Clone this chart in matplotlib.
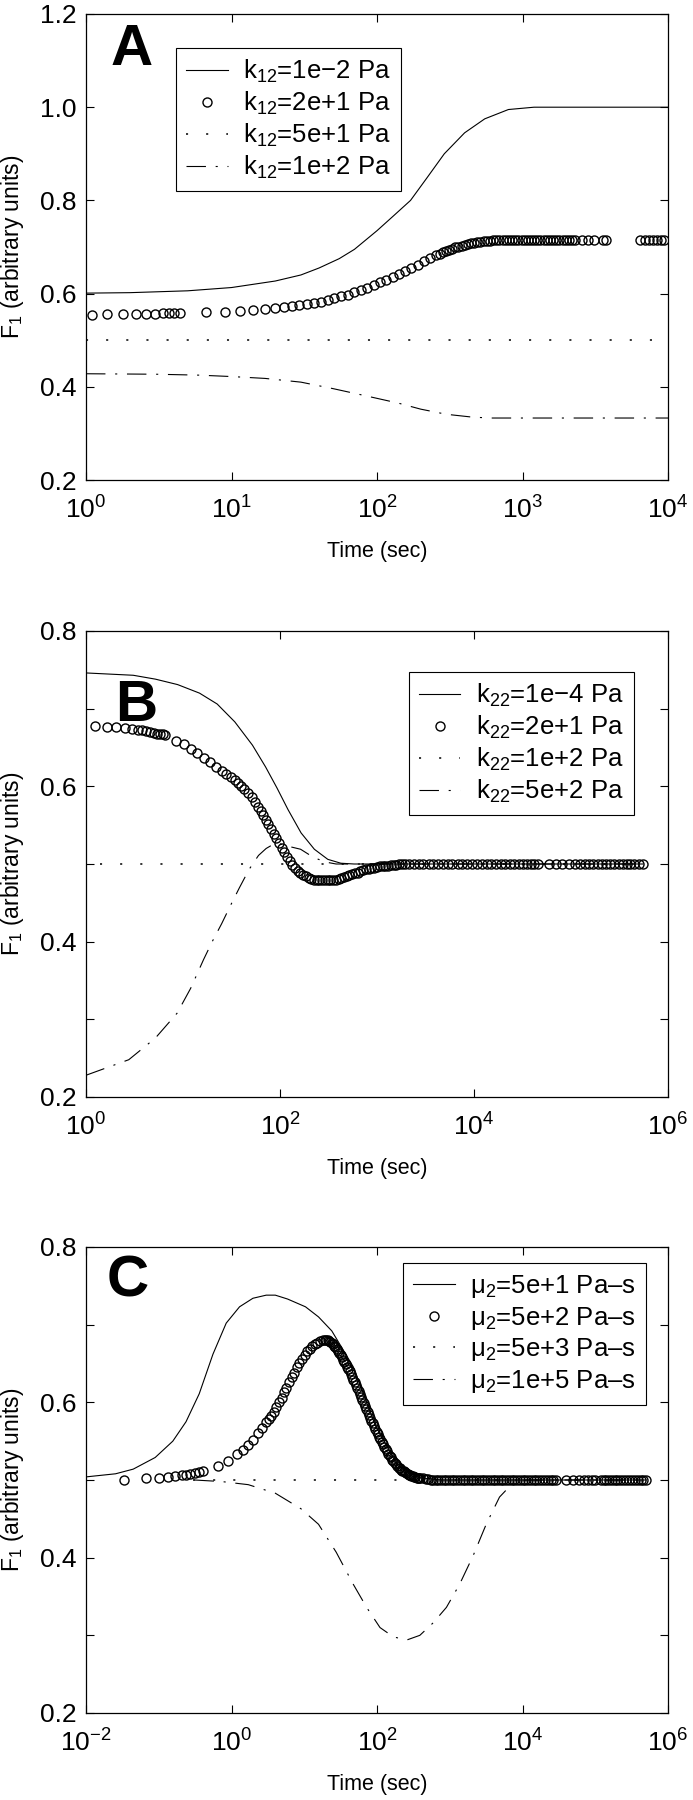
import matplotlib
matplotlib.use('Agg')
import matplotlib.pyplot as plt
from matplotlib.ticker import NullLocator

plt.rcParams['font.family'] = ['Liberation Sans', 'DejaVu Sans']
plt.rcParams['mathtext.fontset'] = 'custom'
plt.rcParams['mathtext.rm'] = 'Liberation Sans'
plt.rcParams['mathtext.it'] = 'Liberation Sans:italic'
plt.rcParams['mathtext.bf'] = 'Liberation Sans:bold'
plt.rcParams['lines.scale_dashes'] = False

# ---------------- panel A : k12 ----------------
a_labels = ['k$_{12}$=1e\u22122 Pa', 'k$_{12}$=2e+1 Pa', 'k$_{12}$=5e+1 Pa', 'k$_{12}$=1e+2 Pa']
a_t_solid = [1, 2, 5, 10, 20, 30, 40, 55, 70, 100, 130, 170, 220, 290, 400, 550, 800, 1200,
             10000]
a_y_solid = [0.601, 0.602, 0.606, 0.613, 0.627, 0.640, 0.655, 0.675, 0.695, 0.735, 0.767,
             0.800, 0.848, 0.900, 0.945, 0.975, 0.995, 1.000, 1.000]
a_t_circ = [1.1, 1.4, 1.8, 2.2, 2.6, 3.0, 3.4, 3.7, 4.0, 4.4,
            6.7, 9.0, 11.5, 14, 17, 20, 23, 26, 29, 33, 37, 41, 46, 51, 57, 63, 70, 78, 86, 95,
            105, 116, 128, 141, 156, 172, 190, 210, 232,
            256, 270, 283, 297, 312, 328, 345, 363, 381, 400, 421, 442, 465, 489, 514, 540,
            568, 597, 628, 660, 694, 730, 767, 806, 848, 891, 937, 985, 1035, 1088, 1144, 1203,
            1264, 1329, 1397, 1469, 1544, 1623, 1706, 1794, 1885, 1982, 2083, 2190, 2302,
            2544, 2811, 3107, 3600, 3750, 6400, 6900, 7400, 7900, 8400, 8900, 9400]
a_y_circ = [0.555, 0.556, 0.557, 0.557, 0.557, 0.557, 0.558, 0.558, 0.558, 0.558,
            0.560, 0.561, 0.563, 0.565, 0.567, 0.569, 0.571, 0.573, 0.575, 0.577, 0.580, 0.583,
            0.586, 0.590, 0.594, 0.598, 0.603, 0.608, 0.613, 0.618,
            0.624, 0.630, 0.636, 0.642, 0.648, 0.655, 0.662, 0.669, 0.676,
            0.683, 0.686, 0.689, 0.691, 0.694, 0.696, 0.699, 0.701, 0.703, 0.705, 0.706, 0.708,
            0.709, 0.710, 0.711, 0.712, 0.713, 0.713, 0.714, 0.714, 0.715, 0.715, 0.715, 0.716,
            0.716, 0.716, 0.716, 0.716, 0.716, 0.716, 0.716, 0.716, 0.716, 0.716, 0.716, 0.716,
            0.716, 0.716, 0.716, 0.716, 0.716, 0.716, 0.716, 0.716, 0.716,
            0.716, 0.716, 0.716, 0.716, 0.716, 0.716, 0.716, 0.716, 0.716, 0.716, 0.716, 0.716]
a_t_dot = [1, 10000]
a_y_dot = [0.5, 0.5]
a_t_dd = [1, 3, 6, 10, 17, 30, 50, 80, 140, 200, 300, 450, 600, 1000, 10000]
a_y_dd = [0.428, 0.427, 0.425, 0.422, 0.418, 0.410, 0.396, 0.382, 0.365, 0.352, 0.341, 0.335,
          0.333, 0.333, 0.333]

# ---------------- panel B : k22 ----------------
b_labels = ['k$_{22}$=1e\u22124 Pa', 'k$_{22}$=2e+1 Pa', 'k$_{22}$=1e+2 Pa', 'k$_{22}$=5e+2 Pa']
b_t_solid = [1, 3.07, 5.2, 8.8, 14.8, 22.5, 34.2, 52, 71, 93, 121, 165, 226, 311, 424, 580,
             1000, 5.5e5]
b_y_solid = [0.746, 0.743, 0.738, 0.731, 0.720, 0.706, 0.683, 0.653, 0.625, 0.598, 0.570, 0.540,
             0.519, 0.506, 0.501, 0.500, 0.500, 0.500]
b_t_circ = [1.23, 1.64, 2.06, 2.54, 3.0, 3.4, 3.8, 4.2, 4.6, 5.0, 5.4, 5.8, 6.2, 6.6,
            8.5, 10.2, 12, 14, 16.3, 19, 22, 25, 28, 31, 34, 37, 40, 43, 47, 51, 55, 59, 63, 67,
            71, 76, 81, 86, 92, 98, 104, 111, 118, 126, 134, 143, 152, 162, 173, 185, 197, 210,
            224, 239, 255, 272, 290, 310, 330, 352, 376, 401, 428, 457, 488, 520, 555, 592, 632,
            675, 720, 770, 820, 875, 935, 1000, 1070, 1140, 1220, 1300, 1390, 1480, 1580, 1690,
            1800, 1950, 2150, 2400, 2700, 3000, 3400, 3800, 4300, 4800, 5400, 6000, 6800, 7600,
            8500, 9500, 10700, 12000, 13500, 15000, 17000, 19000, 21000, 23500, 26000, 29000,
            32000, 35000, 38500, 42000, 46000, 60000, 70000, 80000, 95000, 110000, 125000,
            140000, 155000, 170000, 190000, 210000, 230000, 255000, 280000, 310000, 340000,
            375000, 410000, 450000, 500000, 550000]
b_y_circ = [0.678, 0.677, 0.676, 0.675, 0.674, 0.673, 0.672, 0.671, 0.670, 0.669, 0.668, 0.667,
            0.667, 0.666,
            0.659, 0.654, 0.648, 0.643, 0.637, 0.631, 0.625, 0.620, 0.616, 0.612, 0.608, 0.604,
            0.600, 0.597, 0.591, 0.586, 0.580, 0.574, 0.568, 0.563, 0.557, 0.551, 0.545, 0.539,
            0.533, 0.527, 0.521, 0.515, 0.509, 0.504, 0.499, 0.495, 0.491, 0.488, 0.486, 0.484,
            0.482, 0.481, 0.480, 0.479, 0.479, 0.479, 0.479, 0.479, 0.479, 0.480, 0.480, 0.481,
            0.482, 0.483, 0.484, 0.486, 0.487, 0.488, 0.489, 0.491, 0.492, 0.493, 0.494, 0.495,
            0.495, 0.496, 0.497, 0.497, 0.498, 0.498, 0.499, 0.499, 0.499, 0.500,
            0.500, 0.500, 0.500, 0.500, 0.500, 0.500, 0.500, 0.500, 0.500, 0.500, 0.500, 0.500,
            0.500, 0.500, 0.500, 0.500, 0.500, 0.500, 0.500, 0.500, 0.500, 0.500, 0.500, 0.500,
            0.500, 0.500, 0.500, 0.500, 0.500, 0.500, 0.500, 0.500, 0.500, 0.500, 0.500, 0.500,
            0.500, 0.500, 0.500, 0.500, 0.500, 0.500, 0.500, 0.500, 0.500, 0.500, 0.500, 0.500,
            0.500, 0.500, 0.500, 0.500]
b_t_dot = [1.4, 5.5e5]
b_y_dot = [0.5, 0.5]
b_t_dd = [1, 2.76, 5.2, 8.7, 12, 16.3, 20, 25, 31, 38, 48, 60, 72, 87, 100, 120, 163, 200, 249,
          310, 379, 500, 5.5e5]
b_y_dd = [0.228, 0.248, 0.276, 0.308, 0.340, 0.377, 0.400, 0.423, 0.447, 0.469, 0.493, 0.511,
          0.520, 0.526, 0.526, 0.523, 0.519, 0.512, 0.506, 0.502, 0.500, 0.500, 0.500]

# ---------------- panel C : mu2 ----------------
c_labels = ['\u03bc$_2$=5e+1 Pa\u2013s', '\u03bc$_2$=5e+2 Pa\u2013s',
            '\u03bc$_2$=5e+3 Pa\u2013s', '\u03bc$_2$=1e+5 Pa\u2013s']
c_t_solid = [0.01, 0.0255, 0.0446, 0.0894, 0.156, 0.237, 0.36, 0.556, 0.846, 1.29, 1.97, 3.0,
             4.0, 5.9, 10.4, 15.7, 23.9, 47, 95, 190, 380, 770, 5e5]
c_y_solid = [0.504, 0.508, 0.514, 0.529, 0.550, 0.575, 0.611, 0.662, 0.702, 0.723, 0.734, 0.738,
             0.738, 0.733, 0.723, 0.710, 0.692, 0.646, 0.570, 0.519, 0.503, 0.500, 0.500]
c_t_circ = [0.0337, 0.066, 0.1, 0.132, 0.167, 0.207, 0.237, 0.273, 0.314, 0.36, 0.403,
            0.65, 0.9, 1.2, 1.46, 1.7, 1.99, 2.3, 2.65,
            3.0, 3.25, 3.5, 3.8, 4.1, 4.5, 4.9, 5.3, 5.7, 6.2, 6.7, 7.3, 7.9, 8.6, 9.3, 10.1,
            11.0, 11.9, 12.9, 14.0, 15.2, 16.5, 17.9,
            19.4, 20.2, 21.0, 21.9, 22.8, 23.7, 24.7, 25.7, 26.8, 27.9, 29.1, 30.3, 31.6, 32.9,
            34.3, 35.7, 37.2, 38.7, 40.3, 42.0, 43.8, 45.6, 47.5, 49.5, 51.5, 53.6, 55.9, 58.2,
            60.6, 63.1, 65.8, 68.5, 71.4, 74.4, 77.4, 80.6, 84.0, 87.5, 91.1, 94.9, 98.9, 103,
            107, 111, 116, 121, 126, 131, 137, 143, 149, 155, 161, 168, 175, 182, 190, 198,
            206, 215, 224, 233, 243, 253, 263, 274, 286, 298, 310, 323, 336, 350, 365, 380, 396,
            429, 466, 505, 548, 595, 645, 700,
            760, 830, 900, 980, 1070, 1160, 1270, 1380, 1500, 1640, 1790, 1950, 2120, 2310,
            2520, 2750, 3000, 3270, 3560, 3880, 4230, 4610, 5030, 5480, 5970, 6510, 7100, 7740,
            8440, 9200, 10000, 10900, 11900, 13000, 14200, 15500, 17000, 18600, 20300, 22200,
            24300, 26500, 29000, 40000, 50000, 60000, 70000, 80000, 90000, 100000,
            120000, 130000, 140000, 155000, 170000, 185000, 200000, 220000, 240000, 265000,
            290000, 320000, 350000, 385000, 420000, 460000, 500000]
c_y_circ = [0.500, 0.502, 0.503, 0.504, 0.505, 0.506, 0.507, 0.508, 0.509, 0.510, 0.511,
            0.518, 0.525, 0.533, 0.539, 0.545, 0.552, 0.560, 0.567,
            0.575, 0.579, 0.583, 0.588, 0.594, 0.600, 0.606, 0.613, 0.619, 0.626, 0.632, 0.638,
            0.645, 0.651, 0.656, 0.661, 0.666, 0.669, 0.672, 0.675, 0.677, 0.679, 0.680,
            0.680, 0.680, 0.680, 0.679, 0.678, 0.677, 0.675, 0.673, 0.671, 0.669, 0.666, 0.664,
            0.661, 0.658, 0.655, 0.652, 0.649, 0.646, 0.643, 0.640, 0.636, 0.633, 0.629, 0.626,
            0.622, 0.618, 0.614, 0.611, 0.607, 0.603, 0.599, 0.595, 0.591, 0.588, 0.584, 0.580,
            0.576, 0.573, 0.569, 0.566, 0.562, 0.559, 0.556, 0.553, 0.549, 0.546, 0.543, 0.540,
            0.537, 0.534, 0.531, 0.529, 0.526, 0.524, 0.522, 0.520, 0.518, 0.516, 0.515, 0.513,
            0.512, 0.511, 0.510, 0.509, 0.508, 0.507, 0.506, 0.505, 0.505, 0.504, 0.504, 0.503,
            0.503, 0.502, 0.502,
            0.502, 0.501, 0.501, 0.500, 0.500, 0.500, 0.500,
            0.500, 0.500, 0.500, 0.500, 0.500, 0.500, 0.500, 0.500, 0.500, 0.500, 0.500, 0.500,
            0.500, 0.500, 0.500, 0.500, 0.500, 0.500, 0.500, 0.500, 0.500, 0.500, 0.500, 0.500,
            0.500, 0.500, 0.500, 0.500, 0.500, 0.500, 0.500, 0.500, 0.500, 0.500, 0.500, 0.500,
            0.500, 0.500, 0.500, 0.500, 0.500, 0.500, 0.500, 0.500, 0.500, 0.500, 0.500, 0.500,
            0.500, 0.500, 0.500, 0.500, 0.500, 0.500, 0.500, 0.500, 0.500, 0.500, 0.500, 0.500,
            0.500, 0.500, 0.500, 0.500, 0.500, 0.500, 0.500]
c_t_dot = [0.3, 5e5]
c_y_dot = [0.5, 0.5]
c_t_dd = [0.31, 0.73, 1.7, 4.0, 9.0, 15.7, 27.5, 47, 72, 110, 168, 257, 388, 590, 900, 1370,
          2085, 3170, 4830, 7350, 11200, 5e5]
c_y_dd = [0.500, 0.498, 0.494, 0.483, 0.463, 0.443, 0.407, 0.366, 0.336, 0.310, 0.298, 0.294,
          0.300, 0.316, 0.336, 0.366, 0.402, 0.443, 0.478, 0.496, 0.500, 0.500]

DOT = (0, (1.5, 13))
DASHDOT = (0, (14, 7, 1.5, 7))
TICK_FS = 19
LEG_FS = 18.5


def panel(ax, letter, letter_xy, series, labels, xlim, xticks, ylim, yticks, yticklabels, leg_xy):
    (ts, ys), (tc, yc), (td, yd), (tdd, ydd) = series
    ax.plot(ts, ys, color='k', lw=0.8, label=labels[0])
    ax.plot(tc, yc, ls='none', marker='o', ms=6.5, mfc='none', mec='k', mew=1.0, label=labels[1])
    ax.plot(td, yd, color='k', lw=1.1, ls=DOT, label=labels[2])
    ax.plot(tdd, ydd, color='k', lw=0.8, ls=DASHDOT, label=labels[3])
    ax.set_xscale('log')
    ax.set_xlim(xlim)
    ax.set_ylim(ylim)
    ax.set_xticks(xticks)
    ax.xaxis.set_minor_locator(NullLocator())
    ax.set_yticks(yticks, yticklabels)
    ax.tick_params(direction='in', top=True, right=True, length=6, width=0.8,
                   labelsize=TICK_FS)
    ax.tick_params(axis='x', pad=12)
    ax.tick_params(axis='y', pad=7)
    for s in ax.spines.values():
        s.set_linewidth(0.9)
    ax.set_xlabel('Time (sec)', fontsize=15.5)
    ax.xaxis.set_label_coords(0.5, -0.13)
    ax.xaxis.label.set_va('top')
    ax.set_ylabel('F$_1$ (arbitrary units)', fontsize=16.5)
    ax.yaxis.set_label_coords(-0.103, 0.5)
    ax.text(letter_xy[0], letter_xy[1], letter, transform=ax.transAxes, fontsize=42,
            fontweight='bold', ha='center', va='center')
    leg = ax.legend(loc='upper left', bbox_to_anchor=leg_xy, borderaxespad=0, fontsize=LEG_FS,
                    numpoints=1, fancybox=False, framealpha=1, edgecolor='k',
                    handlelength=1.6, handletextpad=0.6, borderpad=0.4, labelspacing=0.18)
    leg.get_frame().set_linewidth(0.8)


fig = plt.figure(figsize=(6.93, 18), dpi=100)
L, W, H = 86 / 693, 582 / 693, 466 / 1800
axA = fig.add_axes([L, 1 - 480 / 1800, W, H])
axB = fig.add_axes([L, 1 - 1097 / 1800, W, H])
axC = fig.add_axes([L, 1 - 1713 / 1800, W, H])

panel(axA, 'A', (0.079, 0.923),
      [(a_t_solid, a_y_solid), (a_t_circ, a_y_circ), (a_t_dot, a_y_dot), (a_t_dd, a_y_dd)],
      a_labels, (1, 1e4), [1, 10, 100, 1000, 10000], (0.2, 1.2),
      [0.2, 0.4, 0.6, 0.8, 1.0, 1.2], ['0.2', '0.4', '0.6', '0.8', '1.0', '1.2'], (0.155, 0.927))

yt = [0.2, 0.3, 0.4, 0.5, 0.6, 0.7, 0.8]
ytl = ['0.2', '', '0.4', '', '0.6', '', '0.8']
panel(axB, 'B', (0.086, 0.839),
      [(b_t_solid, b_y_solid), (b_t_circ, b_y_circ), (b_t_dot, b_y_dot), (b_t_dd, b_y_dd)],
      b_labels, (1, 1e6), [1, 1e2, 1e4, 1e6], (0.2, 0.8), yt, ytl, (0.555, 0.912))

panel(axC, 'C', (0.072, 0.925),
      [(c_t_solid, c_y_solid), (c_t_circ, c_y_circ), (c_t_dot, c_y_dot), (c_t_dd, c_y_dd)],
      c_labels, (1e-2, 1e6), [1e-2, 1, 1e2, 1e4, 1e6], (0.2, 0.8), yt, ytl, (0.545, 0.966))

fig.savefig('out.png', dpi=100)
